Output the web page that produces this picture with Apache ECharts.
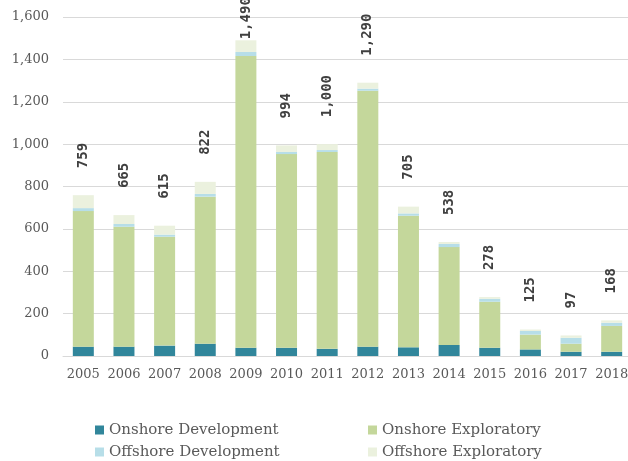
<!DOCTYPE html>
<html>
<head>
<meta charset="utf-8">
<script src="https://cdn.jsdelivr.net/npm/echarts@6/dist/echarts.min.js"></script>
<style>
html,body{margin:0;padding:0;background:#fff;}
#chart{width:628px;height:461px;}
</style>
</head>
<body>
<div id="chart"></div>
<script>
var years = ['2005','2006','2007','2008','2009','2010','2011','2012','2013','2014','2015','2016','2017','2018'];
var onshoreDevelopment  = [44, 44, 49, 58, 39, 39, 34, 44, 41, 52, 39, 31, 20, 20];
var onshoreExploratory  = [640, 566, 514, 694, 1377, 914, 929, 1208, 621, 462, 217, 70, 38, 122];
var offshoreDevelopment = [14, 13, 10, 13, 19, 10, 9, 10, 11, 15, 14, 17, 28, 15];
var offshoreExploratory = [61, 42, 42, 57, 55, 31, 28, 28, 32, 9, 8, 7, 11, 11];
var totals = [759, 665, 615, 822, 1490, 994, 1000, 1290, 705, 538, 278, 125, 97, 168];
var yTicks = [0, 200, 400, 600, 800, 1000, 1200, 1400, 1600];
var seriesNames = ['Onshore Development', 'Onshore Exploratory', 'Offshore Development', 'Offshore Exploratory'];

var chart = echarts.init(document.getElementById('chart'), null, {renderer:'canvas'});
var serifFont = 'DejaVu Serif';
var fmt = function(v){ return Number(v).toLocaleString('en-US'); };

var topData = offshoreExploratory.map(function(v, i){
  var d = {value: v};
  if (totals[i] >= 1400) { d.label = {distance: 1}; }
  return d;
});

function legendAt(name, left, top) {
  return {
    data: [name], orient: 'horizontal', left: left, top: top, padding: 0,
    icon: 'rect', itemWidth: 9, itemHeight: 9,
    textStyle: {fontFamily: serifFont, fontSize: 15, color: '#595959', lineHeight: 16}
  };
}

var barW = 21;
var option = {
  animation: false,
  backgroundColor: '#ffffff',
  grid: {left: 63, right: -4, top: 17, bottom: 105, outerBoundsMode: 'none', containLabel: false},
  legend: [
    legendAt(seriesNames[0], 95, 422),
    legendAt(seriesNames[2], 95, 444),
    legendAt(seriesNames[1], 368, 422),
    legendAt(seriesNames[3], 368, 444)
  ],
  xAxis: {
    type: 'category', data: years,
    axisLine: {show: true, lineStyle: {color: '#D9D9D9', width: 1}},
    axisTick: {show: false},
    axisLabel: {fontFamily: serifFont, fontSize: 13, color: '#595959', margin: 12, interval: 0}
  },
  yAxis: {
    type: 'value', min: 0, max: 1600, interval: 200,
    axisLine: {show: false}, axisTick: {show: false},
    splitLine: {lineStyle: {color: '#D9D9D9', width: 1}},
    axisLabel: {fontFamily: serifFont, fontSize: 13, color: '#595959', margin: 14,
      formatter: function(v){ return yTicks.indexOf(v) >= 0 ? fmt(v) : ''; }}
  },
  series: [
    {name: seriesNames[0], type: 'bar', stack: 'a', barWidth: barW,
      itemStyle: {color: '#31869B'}, data: onshoreDevelopment},
    {name: seriesNames[1], type: 'bar', stack: 'a', barWidth: barW,
      itemStyle: {color: '#C4D79B'}, data: onshoreExploratory},
    {name: seriesNames[2], type: 'bar', stack: 'a', barWidth: barW,
      itemStyle: {color: '#B7DEE8'}, data: offshoreDevelopment},
    {name: seriesNames[3], type: 'bar', stack: 'a', barWidth: barW,
      itemStyle: {color: '#EBF1DE'}, data: topData,
      label: {show: true, position: 'top', rotate: 90, align: 'left', verticalAlign: 'middle',
        distance: 27, fontFamily: 'DejaVu Sans Mono', fontWeight: 'bold', fontSize: 14, color: '#404040',
        formatter: function(p){ return fmt(totals[p.dataIndex]); }}}
  ]
};
chart.setOption(option);
</script>
</body>
</html>
